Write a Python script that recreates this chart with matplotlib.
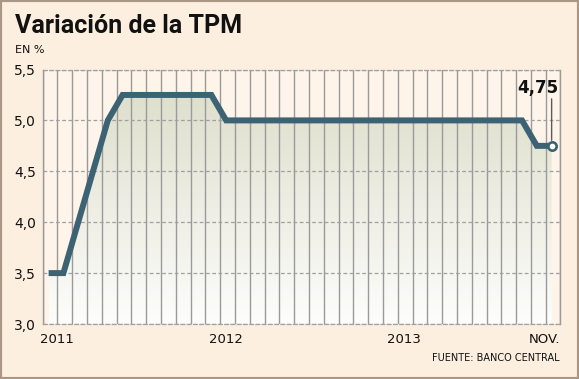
import numpy as np
import matplotlib.pyplot as plt
from matplotlib.colors import LinearSegmentedColormap
from matplotlib.patches import PathPatch, Rectangle

# Monthly TPM, Jan 2011 .. Nov 2013 (index 0 = ene 2011)
months = np.arange(35)
tpm = [3.5, 3.5, 4.0, 4.5, 5.0, 5.25, 5.25, 5.25, 5.25, 5.25, 5.25, 5.25,
       5.0, 5.0, 5.0, 5.0, 5.0, 5.0, 5.0, 5.0, 5.0, 5.0, 5.0, 5.0,
       5.0, 5.0, 5.0, 5.0, 5.0, 5.0, 5.0, 5.0, 5.0, 4.75, 4.75]

x_tick_pos = [0.53, 12, 24, 34.55]
x_tick_labels = ['2011', '2012', '2013', 'NOV.']
y_ticks = [3.0, 3.5, 4.0, 4.5, 5.0, 5.5]
y_tick_labels = ['3,0', '3,5', '4,0', '4,5', '5,0', '5,5']

line_color = '#3b6374'
grid_color = '#9a9a9a'

fig = plt.figure(figsize=(5.79, 3.79), dpi=100, facecolor='#fdefdf')
W, H = 579, 379
ax = fig.add_axes([42.7 / W, 1 - 324 / H, (560.5 - 42.7) / W, (324 - 69.5) / H])
ax.set_facecolor('#fef4ea')

# gradient fill under the line
poly = ax.fill_between(months, tpm, 3.0, facecolor='none', edgecolor='none')
clip = PathPatch(poly.get_paths()[0], transform=ax.transData, facecolor='none', edgecolor='none')
ax.add_patch(clip)
cmap = LinearSegmentedColormap.from_list('tpm_fill', ['#fdfdfb', '#eeeee5', '#dedfcc'])
grad = np.linspace(0, 1, 256).reshape(-1, 1)
im = ax.imshow(grad, cmap=cmap, origin='lower', aspect='auto',
               extent=[months[0], months[-1], 3.0, max(tpm)], zorder=0.2)
im.set_clip_path(clip)
ax.set_xlim(-0.4, 34.55)
ax.set_ylim(3.0, 5.5)

# grid
ax.set_axisbelow(True)
ax.set_xticks(np.arange(36) - 0.4, minor=True)
ax.grid(which='minor', axis='x', color=grid_color, lw=1.0)
ax.set_yticks(y_ticks)
ax.set_yticklabels(y_tick_labels)
ax.grid(which='major', axis='y', color='#a0a0a0', lw=0.9, linestyle=(0, (3, 2)))
ax.set_xticks(x_tick_pos)
ax.set_xticklabels(x_tick_labels)
ax.get_xticklabels()[-1].set_ha('right')
ax.tick_params(which='both', length=0)
ax.tick_params(axis='x', pad=6.5, labelsize=9.5, labelcolor='#111111')
ax.tick_params(axis='y', pad=5, labelsize=10, labelcolor='#111111')

for side in ['top', 'bottom']:
    ax.spines[side].set_color('#a0a0a0')
    ax.spines[side].set_linestyle((0, (3, 2)))
    ax.spines[side].set_linewidth(0.9)
for side in ['left', 'right']:
    ax.spines[side].set_color(grid_color)
    ax.spines[side].set_linewidth(1.0)

# series
ax.plot(months, tpm, color=line_color, lw=4.3, solid_capstyle='butt',
        solid_joinstyle='miter', zorder=3)
ax.plot(months[-1], tpm[-1], 'o', ms=6, mfc='white', mec=line_color, mew=1.9, zorder=4)

# last value callout
ax.annotate('', xy=(months[-1], tpm[-1]), xytext=(0, 47), textcoords='offset pixels',
            arrowprops=dict(arrowstyle='-', color='#5a5a5a', lw=1.0, shrinkA=0, shrinkB=4))
ax.annotate('4,75', xy=(months[-1], tpm[-1]), xytext=(7, 53), textcoords='offset pixels',
            ha='right', va='baseline', fontsize=12, fontweight='bold', color='#111111')

# titles and source
fig.text(15 / W, 1 - 33 / H, 'Variación de la TPM', family='Roboto', fontweight='bold',
         fontsize=18, color='#111111', va='baseline')
fig.text(15 / W, 1 - 53 / H, 'EN %', fontsize=8, color='#111111', va='baseline')
fig.text(560 / W, 1 - 361 / H, 'FUENTE: BANCO CENTRAL', fontsize=7, color='#111111',
         ha='right', va='baseline')

fig.patches.append(Rectangle((0, 0), 1, 1, transform=fig.transFigure, fill=False,
                             edgecolor='#a99685', lw=3))

fig.savefig('out.png', dpi=100, facecolor=fig.get_facecolor())
